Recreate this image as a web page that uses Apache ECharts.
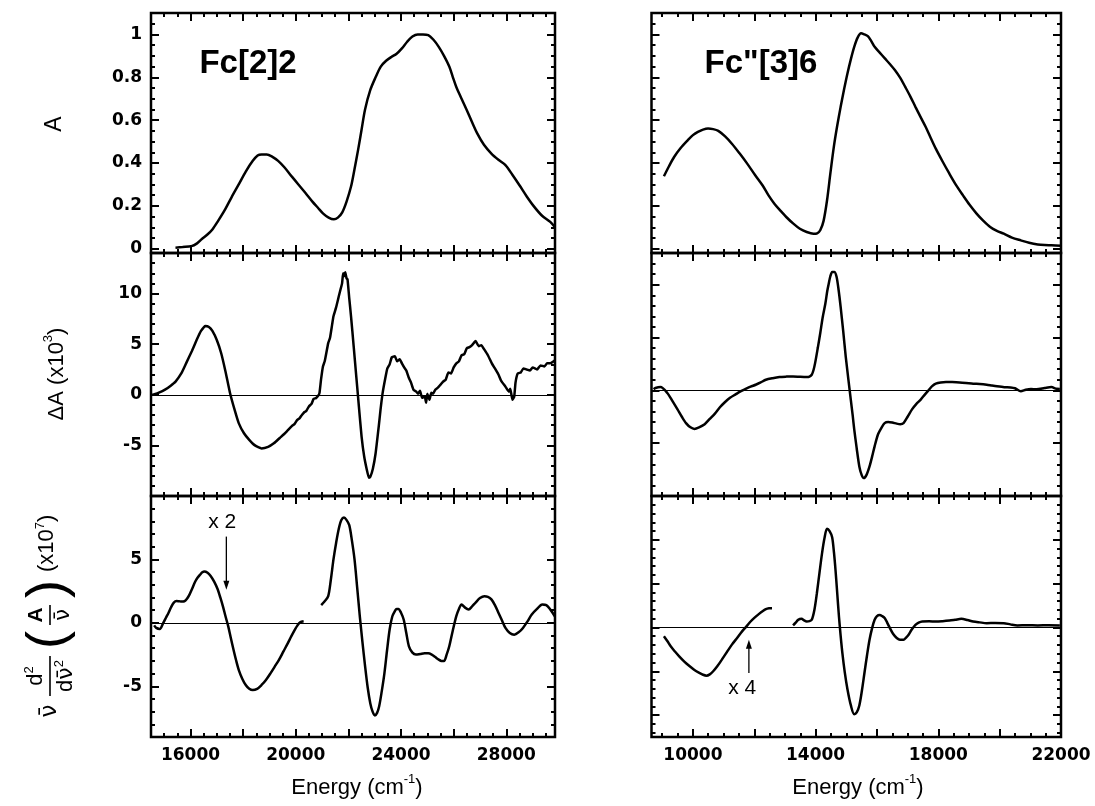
<!DOCTYPE html>
<html><head><meta charset="utf-8">
<script src="https://cdn.jsdelivr.net/npm/echarts@6/dist/echarts.min.js"></script>
<style>html,body{margin:0;padding:0;background:#fff}#c{width:1095px;height:806px}</style>
</head><body><div id="c"></div>
<script>
// ---------------- DATA (energy in cm-1, value) ----------------
const topLeft = [[15430,0.005],[15700,0.008],[16033,0.012],[16250,0.025],[16433,0.045],[16633,0.065],[16833,0.09],[17050,0.13],[17300,0.18],[17560,0.24],[17833,0.30],[18100,0.36],[18367,0.41],[18550,0.435],[18700,0.44],[18900,0.44],[19100,0.43],[19330,0.41],[19567,0.38],[19830,0.34],[20100,0.30],[20370,0.26],[20633,0.22],[20850,0.19],[21033,0.165],[21250,0.145],[21450,0.137],[21600,0.145],[21767,0.17],[21930,0.22],[22100,0.29],[22230,0.37],[22367,0.46],[22500,0.555],[22633,0.65],[22830,0.74],[23033,0.80],[23230,0.85],[23433,0.877],[23633,0.895],[23833,0.91],[24033,0.935],[24233,0.966],[24433,0.99],[24633,1.0],[24833,1.0],[25033,0.997],[25233,0.975],[25433,0.942],[25633,0.9],[25833,0.85],[25970,0.8],[26100,0.755],[26300,0.70],[26500,0.646],[26700,0.59],[26900,0.537],[27150,0.485],[27433,0.444],[27700,0.415],[27967,0.39],[28230,0.345],[28500,0.296],[28770,0.245],[29033,0.2],[29350,0.155],[29670,0.125],[29850,0.1]];

const topRight = [[9055,0.338],[9220,0.385],[9387,0.428],[9600,0.47],[9830,0.506],[10000,0.53],[10163,0.545],[10330,0.556],[10495,0.561],[10660,0.558],[10828,0.55],[11050,0.524],[11271,0.49],[11520,0.445],[11770,0.397],[12020,0.345],[12268,0.296],[12460,0.25],[12656,0.21],[12850,0.178],[13043,0.148],[13265,0.118],[13487,0.093],[13710,0.078],[13930,0.07],[14050,0.072],[14151,0.086],[14260,0.13],[14373,0.226],[14480,0.35],[14594,0.475],[14700,0.57],[14816,0.662],[14930,0.745],[15038,0.818],[15150,0.885],[15259,0.942],[15370,0.985],[15481,1.005],[15590,1.0],[15703,0.992],[15810,0.97],[15924,0.942],[16090,0.915],[16257,0.888],[16420,0.862],[16589,0.833],[16760,0.797],[16922,0.755],[17090,0.71],[17254,0.662],[17420,0.615],[17586,0.569],[17750,0.518],[17918,0.467],[18140,0.407],[18362,0.35],[18580,0.297],[18805,0.249],[19020,0.205],[19248,0.164],[19470,0.13],[19692,0.101],[19910,0.083],[20135,0.07],[20400,0.052],[20689,0.039],[20960,0.028],[21243,0.02],[21470,0.017],[21686,0.016],[22000,0.014]];

const midLeft = [[14550,0.0],[14633,0.05],[14800,0.2],[15033,0.5],[15250,0.9],[15433,1.3],[15650,2.1],[15833,3.1],[16050,4.3],[16233,5.4],[16400,6.3],[16567,6.8],[16700,6.7],[16833,6.3],[17000,5.4],[17167,4.1],[17330,2.3],[17500,0.2],[17667,-1.4],[17833,-2.8],[18033,-3.8],[18233,-4.45],[18450,-5.0],[18700,-5.3],[18950,-5.15],[19167,-4.8],[19400,-4.25],[19550,-3.9],[19700,-3.5],[19850,-3.1],[19950,-2.9],[20050,-2.5],[20150,-2.3],[20233,-2.0],[20330,-1.7],[20400,-1.6],[20500,-1.15],[20600,-0.9],[20680,-0.4],[20767,-0.33],[20850,-0.1],[20900,0.16],[20960,1.5],[21033,2.8],[21100,3.3],[21233,5.1],[21300,5.6],[21380,6.9],[21433,7.75],[21530,8.6],[21633,9.7],[21700,10.4],[21760,11.0],[21800,12.0],[21833,11.7],[21880,12.1],[21930,11.5],[21967,11.4],[22030,9.6],[22100,7.75],[22200,4.8],[22300,1.8],[22400,-1.2],[22500,-4.1],[22600,-6.1],[22700,-7.4],[22780,-8.2],[22833,-8.1],[22930,-7.3],[23033,-5.8],[23150,-3.2],[23220,-1.5],[23300,0.16],[23400,1.6],[23480,2.6],[23567,3.0],[23650,3.7],[23767,3.8],[23850,3.3],[23950,3.5],[24033,3.1],[24120,2.7],[24200,2.4],[24300,1.65],[24380,1.2],[24470,0.5],[24567,0.33],[24650,0.1],[24720,0.4],[24800,-0.3],[24900,-0.16],[24950,-0.8],[25000,0.1],[25080,-0.5],[25150,0.2],[25220,0.1],[25300,0.5],[25400,0.7],[25500,1.0],[25600,1.3],[25700,1.5],[25800,2.2],[25900,2.1],[26000,2.7],[26100,3.1],[26200,3.3],[26300,3.9],[26400,4.0],[26500,4.6],[26600,4.7],[26700,4.9],[26833,5.3],[26950,4.8],[27050,4.9],[27167,4.45],[27300,3.9],[27450,3.1],[27567,2.6],[27700,2.0],[27800,1.4],[27967,0.8],[28100,0.3],[28150,0.6],[28233,-0.5],[28300,-0.2],[28350,1.2],[28433,2.1],[28550,2.2],[28650,2.6],[28767,2.5],[28900,2.4],[29000,2.7],[29167,2.5],[29300,2.9],[29450,2.8],[29550,3.1],[29670,3.1],[29850,3.4]];

const midRight = [[8720,0.1],[8778,0.22],[8944,0.31],[9165,-0.25],[9330,-1.0],[9498,-1.8],[9640,-2.5],[9775,-3.1],[9920,-3.5],[10052,-3.65],[10200,-3.5],[10384,-3.2],[10550,-2.7],[10717,-2.2],[10880,-1.6],[11049,-1.1],[11210,-0.7],[11381,-0.4],[11550,-0.1],[11714,0.13],[11880,0.35],[12046,0.53],[12210,0.75],[12379,1.0],[12600,1.15],[12822,1.26],[13050,1.3],[13265,1.32],[13500,1.28],[13708,1.26],[13800,1.3],[13874,1.48],[13930,1.9],[13985,2.6],[14070,4.0],[14151,5.4],[14230,6.9],[14317,8.2],[14380,9.4],[14428,10.1],[14480,10.8],[14539,11.2],[14610,11.2],[14683,10.75],[14750,9.5],[14816,7.9],[14900,5.6],[14982,3.2],[15070,1.0],[15148,-0.9],[15210,-2.4],[15259,-3.7],[15340,-5.5],[15425,-7.2],[15500,-8.0],[15570,-8.3],[15660,-8.0],[15758,-7.2],[15840,-6.3],[15924,-5.3],[16030,-4.2],[16146,-3.55],[16250,-3.1],[16367,-3.0],[16500,-3.05],[16644,-3.15],[16760,-3.2],[16866,-3.1],[17000,-2.5],[17143,-1.8],[17280,-1.3],[17420,-0.9],[17560,-0.4],[17697,0.06],[17800,0.4],[17918,0.63],[18080,0.75],[18251,0.79],[18450,0.78],[18694,0.75],[18900,0.7],[19137,0.63],[19350,0.6],[19580,0.53],[19750,0.45],[19913,0.38],[20150,0.3],[20357,0.28],[20500,0.2],[20689,-0.09],[20850,0.05],[21021,0.13],[21200,0.1],[21465,0.22],[21686,0.31],[21850,0.15],[21963,0.13]];

const botLeftA = [[14620,-0.2],[14700,-0.4],[14833,-0.48],[14967,0],[15067,0.4],[15167,0.8],[15267,1.25],[15367,1.6],[15470,1.72],[15567,1.7],[15667,1.68],[15767,1.7],[15867,1.9],[15967,2.25],[16067,2.7],[16167,3.2],[16267,3.55],[16367,3.8],[16450,3.98],[16527,4.05],[16650,3.95],[16767,3.7],[16900,3.25],[17033,2.65],[17133,2.0],[17233,1.3],[17333,0.5],[17433,-0.26],[17533,-1.2],[17633,-2.1],[17733,-2.95],[17833,-3.7],[17967,-4.4],[18100,-4.9],[18233,-5.2],[18367,-5.3],[18533,-5.2],[18700,-4.9],[18867,-4.5],[19033,-4.0],[19200,-3.45],[19367,-2.9],[19533,-2.25],[19700,-1.6],[19833,-1.05],[19967,-0.53],[20067,-0.2],[20167,0.05],[20300,0.13]];

const botLeftB = [[20967,1.4],[21100,1.7],[21233,2.1],[21333,3.4],[21433,5.0],[21533,6.3],[21633,7.4],[21733,8.1],[21833,8.3],[21933,8.1],[22033,7.7],[22133,6.5],[22233,5.0],[22333,2.8],[22433,0.53],[22533,-1.5],[22633,-3.4],[22733,-5.1],[22833,-6.35],[22920,-7.0],[23007,-7.3],[23090,-7.1],[23167,-6.6],[23267,-5.4],[23367,-4.0],[23467,-2.2],[23567,-0.53],[23667,0.5],[23767,0.93],[23833,1.1],[23900,1.1],[24000,0.8],[24100,0.26],[24200,-0.8],[24300,-1.85],[24433,-2.35],[24567,-2.5],[24733,-2.45],[24900,-2.4],[25033,-2.4],[25167,-2.5],[25300,-2.7],[25433,-2.9],[25533,-3.0],[25633,-3.0],[25733,-2.5],[25833,-1.85],[25967,-0.6],[26100,0.53],[26200,1.1],[26300,1.45],[26433,1.2],[26567,1.06],[26700,1.3],[26833,1.6],[27000,1.95],[27167,2.1],[27300,2.05],[27433,1.85],[27567,1.4],[27700,0.8],[27833,0.2],[27967,-0.4],[28133,-0.8],[28300,-0.93],[28467,-0.75],[28633,-0.4],[28800,0.1],[28967,0.66],[29167,1.1],[29367,1.45],[29520,1.4],[29670,1.06],[29850,0.5]];

const botRightA = [[9055,-1.0],[9165,-1.55],[9276,-2.15],[9415,-2.75],[9553,-3.3],[9720,-3.9],[9886,-4.4],[10050,-4.85],[10218,-5.2],[10330,-5.4],[10440,-5.5],[10550,-5.35],[10661,-5.0],[10800,-4.4],[10938,-3.7],[11100,-2.85],[11271,-1.96],[11440,-1.2],[11603,-0.45],[11740,0.1],[11880,0.68],[12020,1.15],[12157,1.55],[12270,1.85],[12379,2.08],[12480,2.18],[12578,2.2]];

const botRightB = [[13265,0.23],[13350,0.55],[13431,0.87],[13542,0.98],[13625,0.8],[13708,0.68],[13800,0.72],[13874,0.87],[13960,2.0],[14041,3.9],[14125,6.2],[14207,8.4],[14290,10.2],[14373,11.25],[14456,11.0],[14539,10.3],[14600,8.5],[14650,6.5],[14705,3.9],[14761,1.25],[14815,-0.9],[14872,-2.9],[14950,-5.1],[15038,-7.05],[15150,-8.9],[15259,-9.9],[15340,-9.7],[15425,-8.9],[15510,-7.2],[15592,-5.2],[15675,-3.2],[15758,-1.4],[15840,-0.1],[15924,0.87],[16000,1.3],[16090,1.43],[16170,1.3],[16257,1.06],[16340,0.5],[16423,-0.08],[16530,-0.75],[16644,-1.2],[16750,-1.4],[16866,-1.4],[16950,-1.15],[17032,-0.83],[17140,-0.2],[17254,0.3],[17360,0.55],[17475,0.68],[17700,0.7],[17918,0.68],[18140,0.72],[18362,0.79],[18550,0.88],[18750,0.98],[18950,0.85],[19137,0.68],[19350,0.58],[19580,0.49],[19850,0.5],[20135,0.49],[20350,0.35],[20578,0.23],[20900,0.25],[21243,0.23],[21600,0.25],[21963,0.23]];

// tick label values
const xLabelsLeft = [16000, 20000, 24000, 28000];
const xLabelsRight = [10000, 14000, 18000, 22000];
const yLabelsTop = [0, 0.2, 0.4, 0.6, 0.8, 1];
const yLabelsMid = [-5, 0, 5, 10];
const yLabelsBot = [-5, 0, 5];

// annotations [x, y] in data units
const noteX2 = {text: 'x 2', at: [17203, 7.9], from: [17363, 6.8], to: [17363, 2.6]};
const noteX4 = {text: 'x 4', at: [11607, -6.9], from: [11825, -5.2], to: [11825, -1.4]};

// ---------------- LAYOUT ----------------
function seq(a, b, step) { const out = []; const n = Math.round((b - a) / step); for (let i = 0; i <= n; i++) out.push(+(a + i * step).toFixed(4)); return out; }

const cols = [
  {left: 151, width: 404, min: 14500, max: 29850, major: seq(16000, 28000, 2000), minor: seq(15000, 29500, 500), labels: xLabelsLeft},
  {left: 651.5, width: 409.5, min: 8650, max: 22000, major: seq(10000, 22000, 2000), minor: seq(9000, 21500, 500), labels: xLabelsRight}
];
const rows = [{top: 13, height: 240}, {top: 253, height: 243}, {top: 496, height: 241}];
const yCfg = [
  {min: -0.02, max: 1.1, major: seq(0, 1, 0.2), minor: seq(0, 1.1, 0.05), labels: yLabelsTop},
  {min: -0.02, max: 1.1, major: seq(0, 1, 0.2), minor: seq(0, 1.1, 0.05), labels: null},
  {min: -10, max: 14, major: [-5, 0, 5, 10], minor: seq(-9, 13, 1), labels: yLabelsMid},
  {min: -10, max: 13, major: [-5, 0, 5, 10], minor: seq(-9, 12, 1), labels: null},
  {min: -9, max: 10, major: [-5, 0, 5], minor: seq(-8, 9, 1), labels: yLabelsBot},
  {min: -12.5, max: 15, major: [-10, -5, 0, 5, 10], minor: seq(-12, 14, 1), labels: null}
];

const labelFont = {color: '#000', fontFamily: 'DejaVu Sans', fontWeight: 'bold', fontSize: 17};
const grids = [], xAxes = [], yAxes = [];
for (let r = 0; r < 3; r++) for (let c = 0; c < 2; c++) {
  const g = r * 2 + c, col = cols[c], row = rows[r], yc = yCfg[g];
  grids.push({left: col.left, width: col.width, top: row.top, height: row.height, show: true, borderColor: '#000', borderWidth: 2.5, backgroundColor: 'transparent'});
  const mkX = (pos, ticks, len, labels) => ({
    gridIndex: g, type: 'value', min: col.min, max: col.max, position: pos,
    axisLine: {show: false, onZero: false}, splitLine: {show: false},
    axisTick: {show: true, inside: true, length: len, lineStyle: {color: '#000', width: 2}, customValues: ticks},
    axisLabel: labels ? Object.assign({show: true, customValues: labels, margin: 10, formatter: v => String(v)}, labelFont) : {show: false}
  });
  xAxes.push(mkX('bottom', col.major, 8, r === 2 ? col.labels : null));
  xAxes.push(mkX('bottom', col.minor, 4, null));
  xAxes.push(mkX('top', col.major, 8, null));
  xAxes.push(mkX('top', col.minor, 4, null));
  const mkY = (pos, ticks, len, labels) => ({
    gridIndex: g, type: 'value', min: yc.min, max: yc.max, position: pos,
    axisLine: {show: false, onZero: false}, splitLine: {show: false},
    axisTick: {show: true, inside: true, length: len, lineStyle: {color: '#000', width: 2}, customValues: ticks},
    axisLabel: labels ? Object.assign({show: true, customValues: labels, margin: 9, formatter: v => String(v)}, labelFont) : {show: false}
  });
  yAxes.push(mkY('left', yc.major, 8, yc.labels));
  yAxes.push(mkY('left', yc.minor, 4, null));
  yAxes.push(mkY('right', yc.major, 8, null));
  yAxes.push(mkY('right', yc.minor, 4, null));
}

const zeroLine = {silent: true, symbol: 'none', label: {show: false}, lineStyle: {color: '#000', width: 1.2, type: 'solid'}, data: [{yAxis: 0}]};
function line(g, data, smooth, withZero) {
  const s = {type: 'line', xAxisIndex: g * 4, yAxisIndex: g * 4, data: data, showSymbol: false, smooth: smooth,
    lineStyle: {color: '#000', width: 2.5}, itemStyle: {color: '#000'}, clip: true};
  if (withZero) s.markLine = zeroLine;
  return s;
}
const series = [
  line(0, topLeft, 0.3, false),
  line(1, topRight, 0.3, false),
  line(2, midLeft, 0.15, true),
  line(3, midRight, 0.25, true),
  line(4, botLeftA, 0.3, true),
  line(4, botLeftB, 0.3, false),
  line(5, botRightA, 0.3, true),
  line(5, botRightB, 0.3, false)
];

const supRich = {
  a: {fontSize: 22, fontFamily: 'Liberation Sans', color: '#000', verticalAlign: 'bottom', lineHeight: 26},
  s: {fontSize: 13, fontFamily: 'Liberation Sans', color: '#000', verticalAlign: 'top', lineHeight: 26}
};
const mathRich = {
  a: {fontSize: 22, fontFamily: 'Liberation Sans', color: '#000', verticalAlign: 'bottom', lineHeight: 24},
  n: {fontSize: 22, fontFamily: 'DejaVu Sans', color: '#000', verticalAlign: 'bottom', lineHeight: 24},
  s: {fontSize: 13, fontFamily: 'Liberation Sans', color: '#000', verticalAlign: 'top', lineHeight: 24}
};
const T = (x, y, text, extra) => ({type: 'text', x: x, y: y, style: Object.assign({text: text, fill: '#000', align: 'center', verticalAlign: 'middle', font: '22px "Liberation Sans"'}, extra || {})});

const chart = echarts.init(document.getElementById('c'), null, {renderer: 'canvas'});
const baseGraphics = [
  T(248, 64, 'Fc[2]2', {font: 'bold 33px "Liberation Sans"'}),
  T(761, 64, 'Fc"[3]6', {font: 'bold 33px "Liberation Sans"'}),
  Object.assign(T(55, 124, 'A', {font: '23px "Liberation Sans"'}), {rotation: Math.PI / 2}),
  {type: 'text', x: 55, y: 374, rotation: Math.PI / 2, style: {text: '{a|ΔA (x10}{s|3}{a|)}', rich: supRich, align: 'center', verticalAlign: 'middle'}},
  {type: 'text', x: 357, y: 786, style: {text: '{a|Energy (cm}{s|-1}{a|)}', rich: supRich, align: 'center', verticalAlign: 'middle'}},
  {type: 'text', x: 858, y: 786, style: {text: '{a|Energy (cm}{s|-1}{a|)}', rich: supRich, align: 'center', verticalAlign: 'middle'}},
  {type: 'group', x: 50, y: 720, rotation: Math.PI / 2, children: [
    T(9, 0, 'ν̄', {font: '23px "DejaVu Sans"'}),
    {type: 'text', x: 44, y: -3, style: {text: '{a|d}{s|2}', rich: mathRich, align: 'center', verticalAlign: 'bottom'}},
    {type: 'line', shape: {x1: 24, y1: 0, x2: 64, y2: 0}, style: {stroke: '#000', lineWidth: 1.6}},
    {type: 'text', x: 44, y: 3, style: {text: '{a|d}{n|ν̄}{s|2}', rich: mathRich, align: 'center', verticalAlign: 'top'}},
    T(80, -1, '(', {font: '54px "Liberation Sans"'}),
    T(105, -3, 'A', {font: 'bold 21px "Liberation Sans"', verticalAlign: 'bottom'}),
    {type: 'line', shape: {x1: 95, y1: 0, x2: 115, y2: 0}, style: {stroke: '#000', lineWidth: 1.6}},
    T(105, 3, 'ν̄', {font: '21px "DejaVu Sans"', verticalAlign: 'top'}),
    T(131, -1, ')', {font: '54px "Liberation Sans"'}),
    {type: 'text', x: 148, y: -4, style: {text: '{a|(x10}{s|7}{a|)}', rich: mathRich, align: 'left', verticalAlign: 'middle'}}
  ]}
];

chart.setOption({animation: false, backgroundColor: '#fff', grid: grids, xAxis: xAxes, yAxis: yAxes, series: series, graphic: baseGraphics});

function noteGraphics(note, g) {
  const f = {xAxisIndex: g * 4, yAxisIndex: g * 4};
  const t = chart.convertToPixel(f, note.at), a = chart.convertToPixel(f, note.from), b = chart.convertToPixel(f, note.to);
  const dir = b[1] > a[1] ? 1 : -1;
  return [
    {type: 'text', x: t[0], y: t[1], style: {text: note.text, fill: '#000', font: '21px "Liberation Sans"', align: 'center', verticalAlign: 'middle'}},
    {type: 'line', shape: {x1: a[0], y1: a[1], x2: b[0], y2: b[1] - dir * 6}, style: {stroke: '#000', lineWidth: 1.3}},
    {type: 'polygon', shape: {points: [[b[0], b[1]], [b[0] - 3, b[1] - dir * 9], [b[0] + 3, b[1] - dir * 9]]}, style: {fill: '#000'}}
  ];
}
chart.setOption({graphic: baseGraphics.concat(noteGraphics(noteX2, 4), noteGraphics(noteX4, 5))});
</script>
</body></html>
